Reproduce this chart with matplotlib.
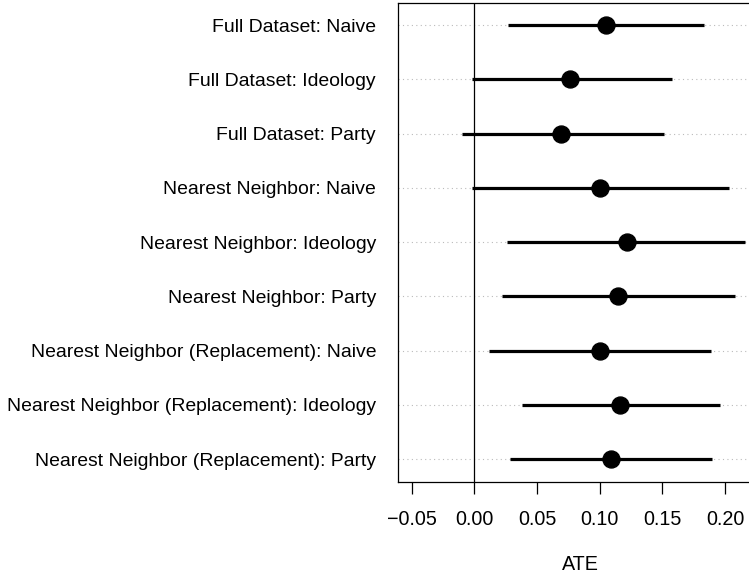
import matplotlib
matplotlib.use("Agg")
import matplotlib.pyplot as plt

plt.rcParams['font.family'] = ['Liberation Sans', 'DejaVu Sans']

labels = [
    "Full Dataset: Naive",
    "Full Dataset: Ideology",
    "Full Dataset: Party",
    "Nearest Neighbor: Naive",
    "Nearest Neighbor: Ideology",
    "Nearest Neighbor: Party",
    "Nearest Neighbor (Replacement): Naive",
    "Nearest Neighbor (Replacement): Ideology",
    "Nearest Neighbor (Replacement): Party",
]
estimate = [0.1048, 0.0761, 0.0694, 0.1000, 0.1215, 0.1149, 0.1002, 0.1159, 0.1093]
lower = [0.0271, -0.0021, -0.0096, -0.0021, 0.0263, 0.0218, 0.0117, 0.0378, 0.0285]
upper = [0.1832, 0.1574, 0.1513, 0.2031, 0.2159, 0.2076, 0.1885, 0.1957, 0.1898]
xticks = [-0.05, 0.00, 0.05, 0.10, 0.15, 0.20]
xticklabels = ["\u22120.05", "0.00", "0.05", "0.10", "0.15", "0.20"]

W, H = 749, 577
fig = plt.figure(figsize=(W / 100, H / 100), dpi=100)
x0 = -0.0606
x1 = 0.23
scale = 1254.0
left = 398.3 / W
width = (x1 - x0) * scale / W
bottom = (H - 481.7) / H
top = (H - 2.7) / H
ax = fig.add_axes([left, bottom, width, top - bottom])

n = len(labels)
ys = list(range(n, 0, -1))

for y in ys:
    ax.axhline(y, color="#bbbbbb", lw=0.8, linestyle=(0, (1, 3)), zorder=1)
ax.axvline(0, color="black", lw=0.9, zorder=2)
ax.hlines(ys, lower, upper, color="black", lw=2.3, zorder=3)
ax.plot(estimate, ys, "o", color="black", markersize=12.2, zorder=4)

ax.set_xlim(x0, x1)
ax.set_ylim(0.585, n + 0.415)
ax.set_yticks(ys)
ax.set_yticklabels(labels, fontsize=13.95)
ax.tick_params(axis="y", length=0, pad=16)
ax.set_xticks(xticks)
ax.set_xticklabels(xticklabels, fontsize=14.2)
ax.tick_params(axis="x", length=8.4, width=0.9, pad=12)
ax.set_xlabel("ATE", fontsize=14.2, labelpad=18.4)
for s in ax.spines.values():
    s.set_linewidth(0.9)

fig.savefig("out.png", dpi=100)
